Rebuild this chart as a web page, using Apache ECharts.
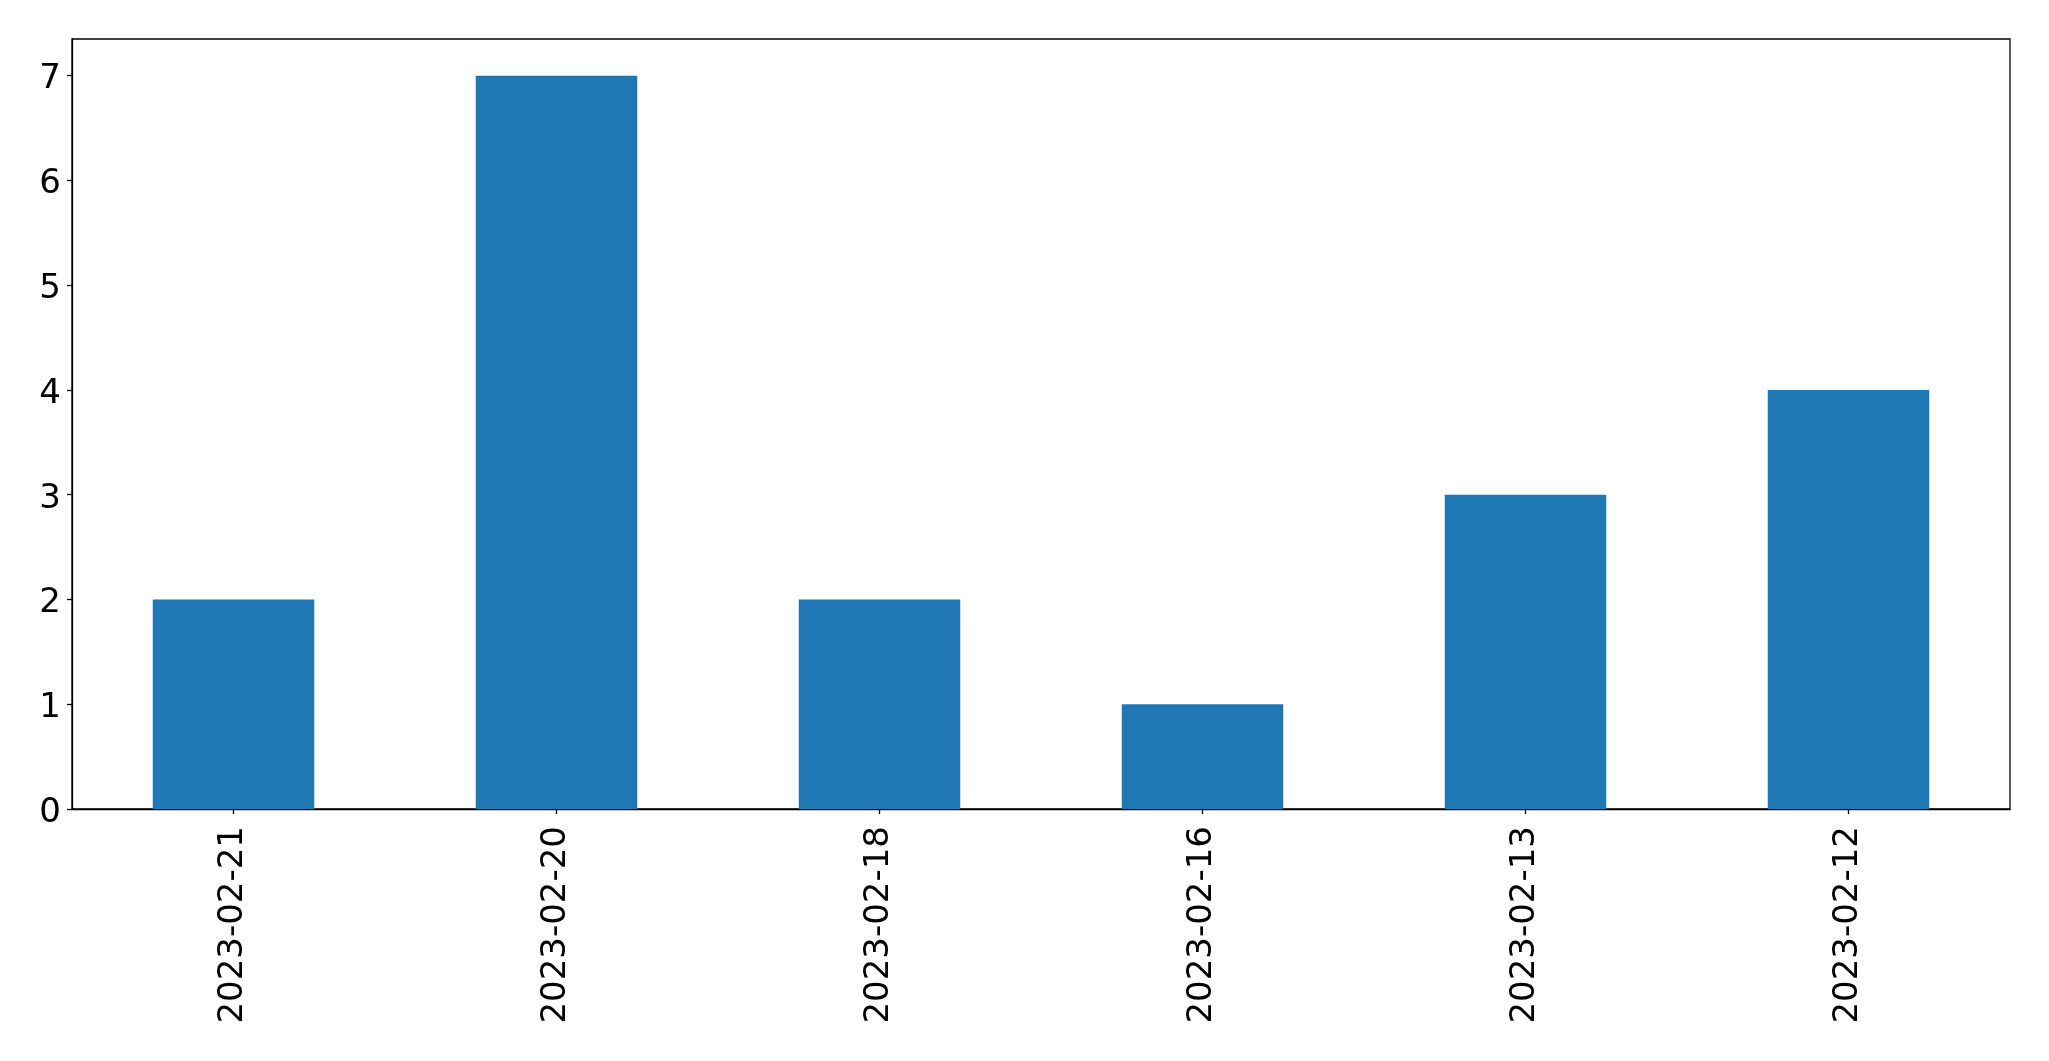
<!DOCTYPE html>
<html>
<head>
<meta charset="utf-8">
<script src="https://cdn.jsdelivr.net/npm/echarts@6/dist/echarts.min.js"></script>
<style>
html,body{margin:0;padding:0;background:#fff;}
#chart{width:2049px;height:1061px;}
</style>
</head>
<body>
<div id="chart"></div>
<script>
const categories = ["2023-02-21", "2023-02-20", "2023-02-18", "2023-02-16", "2023-02-13", "2023-02-12"];
const values = [2, 7, 2, 1, 3, 4];

const chart = echarts.init(document.getElementById('chart'), null, {renderer: 'canvas'});
const font = 'DejaVu Sans';
chart.setOption({
  animation: false,
  backgroundColor: '#ffffff',
  grid: {left: 72, top: 39, right: 39, bottom: 252, containLabel: false, show: true, borderColor: '#000', borderWidth: 1.3, backgroundColor: 'transparent'},
  xAxis: {
    type: 'category',
    data: categories,
    axisLine: {show: true, lineStyle: {color: '#000', width: 1.3}},
    axisTick: {show: true, alignWithLabel: true, length: 5, lineStyle: {color: '#000', width: 1.3}},
    axisLabel: {rotate: 90, margin: 17, fontFamily: font, fontSize: 34, color: '#000', interval: 0},
    splitLine: {show: false}
  },
  yAxis: {
    type: 'value',
    min: 0, max: 7.35, interval: 1,
    axisLine: {show: true, lineStyle: {color: '#000', width: 1.3}},
    axisTick: {show: true, length: 5, lineStyle: {color: '#000', width: 1.3}},
    axisLabel: {
      margin: 11, fontFamily: font, fontSize: 34, color: '#000', showMaxLabel: false,
      formatter: '{a|{value}}',
      rich: {a: {fontFamily: font, fontSize: 34, color: '#000', padding: [8, 0, 0, 0]}}
    },
    splitLine: {show: false}
  },
  series: [{
    type: 'bar',
    data: values,
    barWidth: '50%',
    itemStyle: {color: '#1f77b4'}
  }]
});
</script>
</body>
</html>
